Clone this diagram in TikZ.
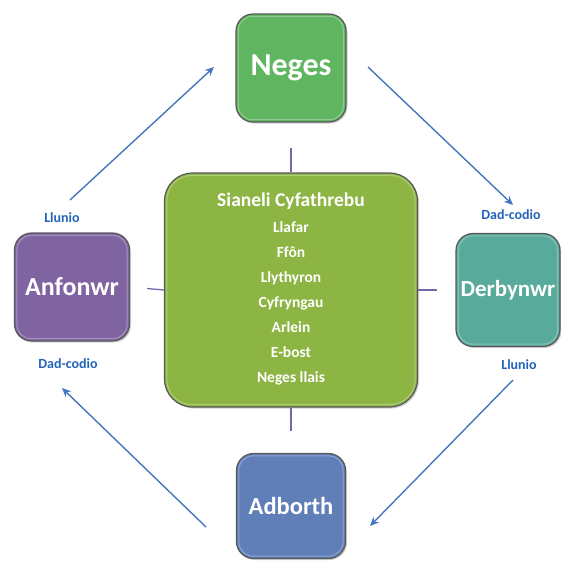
\documentclass[tikz,border=0pt]{standalone}
\usepackage{fontspec}
\setmainfont{Carlito}
\usetikzlibrary{arrows.meta,shadows}
\definecolor{cneges}{RGB}{95,181,96}
\definecolor{ccenter}{RGB}{141,181,68}
\definecolor{canfon}{RGB}{128,100,162}
\definecolor{cderb}{RGB}{88,170,155}
\definecolor{cadb}{RGB}{96,126,184}
\definecolor{cblue}{RGB}{70,118,190}
\definecolor{clabel}{RGB}{35,100,185}
\definecolor{cpurp}{RGB}{120,100,170}
\begin{document}
\begin{tikzpicture}[x=1pt,y=-1pt,
  box/.style={draw=black!65, line width=1.2pt, rounded corners=17pt,
    text=white, font=\bfseries, align=center, inner sep=0pt,
    drop shadow={shadow xshift=1.5pt, shadow yshift=-1.5pt, opacity=0.35}},
  gloss/.style={white, opacity=0.3, line width=1pt, rounded corners=14pt},
  flow/.style={cblue, line width=1.4pt, -{Stealth[length=9pt,width=8pt,inset=3pt]}},
  link/.style={cpurp, line width=1.3pt},
  lbl/.style={clabel, font=\bfseries\fontsize{14}{16}\selectfont}]
\useasboundingbox (0,0) rectangle (561,563);
\node[box, fill=cneges, minimum width=110pt, minimum height=108pt,
  font=\bfseries\fontsize{32}{34}\selectfont] (neges) at (291,68) {Neges};
\node[box, fill=canfon, minimum width=115pt, minimum height=108pt,
  font=\bfseries\fontsize{26}{28}\selectfont] (anfon) at (72,287) {Anfonwr};
\node[box, fill=cderb, minimum width=104pt, minimum height=113pt,
  font=\bfseries\fontsize{23}{26}\selectfont] (derb) at (508,290) {Derbynwr};
\node[box, fill=cadb, minimum width=109pt, minimum height=105pt,
  font=\bfseries\fontsize{24.5}{28}\selectfont] (adb) at (291,506) {Adborth};
\node[box, fill=ccenter, minimum width=253pt, minimum height=234pt, rounded corners=28pt] (ctr) at (291,290) {};
\foreach \n in {neges,anfon,derb,adb}
  \draw[gloss] ([shift={(3pt,-3pt)}]\n.north west) rectangle ([shift={(-3pt,3pt)}]\n.south east);
\draw[gloss, rounded corners=25pt] ([shift={(3pt,-3pt)}]ctr.north west) rectangle ([shift={(-3pt,3pt)}]ctr.south east);
\node[text=white, font=\bfseries\fontsize{19.5}{22}\selectfont] (title) at (291,201) {Sianeli Cyfathrebu};
\node[text=white, font=\bfseries\fontsize{15.5}{25}\selectfont, align=center] (items) at (291,303)
  {Llafar\\ Ffôn\\ Llythyron\\ Cyfryngau\\ Arlein\\ E-bost\\ Neges llais};
\draw[link, shorten >=25pt] (ctr.north) -- (neges.south);
\draw[link, shorten >=17pt] (ctr.west) -- (anfon.east);
\draw[link, shorten >=18pt] (ctr.east) -- (derb.west);
\draw[link, shorten >=22pt] (ctr.south) -- (adb.north);
\coordinate (a1s) at (70,200); \coordinate (a1e) at (214,67);
\coordinate (a2s) at (368,67); \coordinate (a2e) at (513,205);
\coordinate (a3s) at (513,380); \coordinate (a3e) at (370,526);
\coordinate (a4s) at (206,527); \coordinate (a4e) at (62,388);
\draw[flow] (a1s) -- (a1e);
\draw[flow] (a2s) -- (a2e);
\draw[flow] (a3s) -- (a3e);
\draw[flow] (a4s) -- (a4e);
\node[lbl] (l1) at (62,218) {Llunio};
\node[lbl] (l2) at (511,215) {Dad-codio};
\node[lbl] (l3) at (68,364) {Dad-codio};
\node[lbl] (l4) at (519,365) {Llunio};
\end{tikzpicture}
\end{document}
